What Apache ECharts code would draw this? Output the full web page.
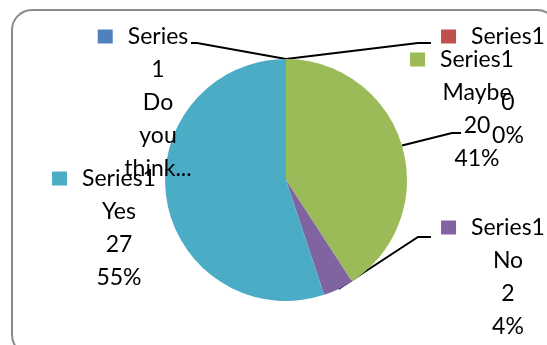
<!DOCTYPE html>
<html>
<head>
<meta charset="utf-8">
<script src="https://cdn.jsdelivr.net/npm/echarts@6/dist/echarts.min.js"></script>
<style>
  html, body { margin: 0; padding: 0; background: #fff; }
  #chart { width: 547px; height: 345px; }
</style>
</head>
<body>
<div id="chart"></div>
<script>
// Survey answers, one pie slice per category
const seriesName = 'Series1';
const categories = ['Do you think...', '', 'Maybe', 'No', 'Yes'];
const values = [0, 0, 20, 2, 27];
const colors = ['#4F81BD', '#C0504D', '#9BBB59', '#8064A2', '#4BACC6'];

// Where each label block sits (centre x, top y) and how its leader line ends
const labelSpots = [
  { x: 158, y: 20, line: { bend: [197, 43], end: [191, 43] } },
  { x: 508, y: 20, line: { bend: [418, 43], end: [431, 43] } },
  { x: 477, y: 43, line: { bend: [452, 133], end: [461, 133] } },
  { x: 508, y: 211, line: { bend: [418, 237], end: [431, 237] } },
  { x: 119, y: 162, line: null }
];

const FONT = 'Lato';
const LH = 33;

function labelText(p) {
  const i = p.dataIndex;
  const pct = Math.round(p.percent) + '%';
  if (i === 0) {
    // narrow label: words wrap one per line, value lines are cut off
    const words = p.name.split(' ');
    return '{k|}{g|}{t|Series}{p|}\n{t|1}\n' + words.map(w => '{t|' + w + '}').join('\n');
  }
  return '{k|}{g|}{t|' + p.seriesName + '}{p|}\n{t|' + (p.name || ' ') + '}\n{t|' + p.value + '}\n{t|' + pct + '}';
}

const data = categories.map((name, i) => ({
  name: name,
  value: values[i],
  itemStyle: { color: colors[i] },
  label: {
    rich: {
      k: { width: 15, height: 14, backgroundColor: colors[i] },
      g: { width: 15 },
      p: { width: 30 },
      t: { fontFamily: FONT, fontSize: 23, color: '#000', lineHeight: LH }
    }
  },
  labelLine: { show: labelSpots[i].line !== null }
}));

const chart = echarts.init(document.getElementById('chart'), null, { renderer: 'canvas' });
chart.setOption({
  backgroundColor: '#fff',
  animation: false,
  graphic: [{
    type: 'rect',
    shape: { x: 12, y: 10, width: 545, height: 345, r: 20 },
    style: { fill: 'none', stroke: '#8a8a8a', lineWidth: 2 },
    z: 0
  }],
  series: [{
    type: 'pie',
    name: seriesName,
    center: [286, 180],
    radius: 121,
    startAngle: 90,
    clockwise: true,
    avoidLabelOverlap: false,
    stillShowZeroSum: true,
    itemStyle: { borderWidth: 0 },
    emphasis: { disabled: true },
    label: {
      show: true,
      position: 'outside',
      formatter: labelText,
      fontFamily: FONT,
      fontSize: 23,
      color: '#000',
      lineHeight: LH,
      align: 'center'
    },
    labelLine: {
      show: true,
      lineStyle: { color: '#000', width: 2 }
    },
    labelLayout: function (params) {
      const spot = labelSpots[params.dataIndex];
      const out = { x: spot.x, y: spot.y, align: 'center', verticalAlign: 'top', hideOverlap: false };
      if (spot.line && params.labelLinePoints) {
        const start = params.labelLinePoints[0];
        out.labelLinePoints = [start, spot.line.bend, spot.line.end];
      }
      return out;
    },
    data: data
  }]
});
</script>
</body>
</html>
